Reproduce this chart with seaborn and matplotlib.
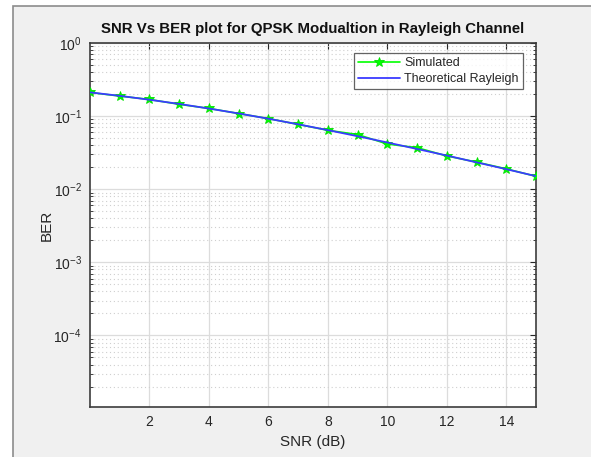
import numpy as np
import pandas as pd
import seaborn as sns
import matplotlib
matplotlib.use("Agg")
import matplotlib.pyplot as plt
from matplotlib.patches import Rectangle
from matplotlib.ticker import LogLocator, NullFormatter, FixedLocator

# SNR in dB and bit error rates
snr_db = [0, 1, 2, 3, 4, 5, 6, 7, 8, 9, 10, 11, 12, 13, 14, 15]
ber_simulated = [0.2105, 0.1880, 0.1690, 0.1450, 0.1275, 0.1085, 0.0925, 0.0770,
                 0.0640, 0.0560, 0.0415, 0.0370, 0.0285, 0.0235, 0.0190, 0.0150]
ber_theory = [0.2113, 0.1893, 0.1675, 0.1467, 0.1269, 0.1087, 0.0921, 0.0773,
              0.0643, 0.0531, 0.0436, 0.0355, 0.0289, 0.0233, 0.0188, 0.0151]
x_ticks = [2, 4, 6, 8, 10, 12, 14]
y_ticks = [1e-4, 1e-3, 1e-2, 1e-1, 1e0]
y_tick_labels = ["$10^{-4}$", "$10^{-3}$", "$10^{-2}$", "$10^{-1}$", "$10^{0}$"]

sns.set_style("white")
plt.rcParams["font.family"] = ["Liberation Sans", "DejaVu Sans"]
plt.rcParams["mathtext.fontset"] = "custom"
plt.rcParams["mathtext.rm"] = "Liberation Sans"
plt.rcParams["mathtext.it"] = "Liberation Sans"
plt.rcParams["axes.unicode_minus"] = False

text_col = "#262626"
fig = plt.figure(figsize=(5.91, 4.57), dpi=100)
fig.patch.set_facecolor("white")

# window-style gray backdrop
fig.patches.append(Rectangle((13 / 591, -0.01), 1.0, 1 - 6 / 457 + 0.01,
                             transform=fig.transFigure, facecolor="#f0f0f0",
                             edgecolor="#8c8c8c", linewidth=1.2, zorder=-10))

ax = fig.add_axes([90 / 591, 1 - 407 / 457, (536 - 90) / 591, (407 - 43) / 457])
ax.set_facecolor("white")

df = pd.DataFrame({"snr": snr_db, "sim": ber_simulated, "theory": ber_theory})
sns.lineplot(data=df, x="snr", y="sim", ax=ax, color="#00ff00", linewidth=1.2,
             marker="*", markersize=7, markeredgecolor="#00e000",
             markeredgewidth=0.6, label="Simulated", zorder=3)
sns.lineplot(data=df, x="snr", y="theory", ax=ax, color="#3a3aff", linewidth=1.3,
             label="Theoretical Rayleigh", zorder=4)

ax.set_yscale("log")
ax.set_xlim(0, 15)
ax.set_ylim(1.05e-5, 1)
ax.xaxis.set_major_locator(FixedLocator(x_ticks))
ax.set_yticks(y_ticks)
ax.set_yticklabels(y_tick_labels)
ax.yaxis.set_minor_locator(LogLocator(base=10, subs=np.arange(2, 10), numticks=20))
ax.yaxis.set_minor_formatter(NullFormatter())

ax.grid(True, which="major", color="#dcdcdc", linewidth=0.9, linestyle="-")
ax.grid(True, which="minor", axis="y", color="#cfcfcf", linewidth=0.8,
        linestyle=(0, (1, 2.5)))
ax.set_axisbelow(True)

ax.tick_params(which="major", direction="in", length=4, width=0.8, colors=text_col,
               labelsize=10, top=True, right=True, pad=6)
ax.tick_params(which="minor", direction="in", length=2.5, width=0.6, colors=text_col,
               left=True, right=True)
for s in ax.spines.values():
    s.set_color("#3c3c3c")
    s.set_linewidth(1.2)

ax.set_xlabel("SNR (dB)", fontsize=11, color=text_col, labelpad=4)
ax.set_ylabel("BER", fontsize=11, color=text_col, labelpad=0)
ax.set_title("SNR Vs BER plot for QPSK Modualtion in Rayleigh Channel",
             fontsize=10.8, fontweight="bold", color="#111111", pad=7)

leg = ax.legend(loc="upper right", bbox_to_anchor=(0.985, 0.99), fontsize=9,
                frameon=True, fancybox=False, edgecolor="#3c3c3c",
                handlelength=3.4, borderpad=0.35, labelspacing=0.3,
                handletextpad=0.3)
leg.get_frame().set_linewidth(0.9)
for t in leg.get_texts():
    t.set_color(text_col)

fig.savefig("out.png", dpi=100, facecolor=fig.get_facecolor())
